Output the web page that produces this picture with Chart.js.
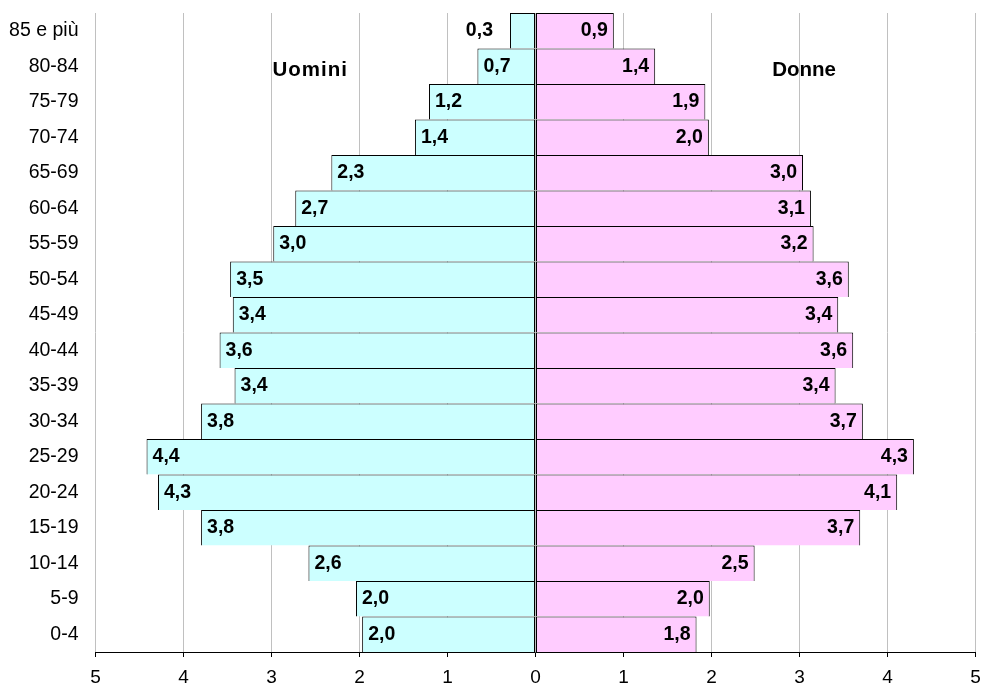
<!DOCTYPE html>
<html>
<head>
<meta charset="utf-8">
<script src="https://cdn.jsdelivr.net/npm/chart.js@4/dist/chart.umd.min.js"></script>
<style>
html,body{margin:0;padding:0;background:#ffffff;}
#wrap{width:982px;height:688px;position:relative;}
</style>
</head>
<body>
<div id="wrap"><canvas id="c" width="982" height="688"></canvas></div>
<script>
// Age groups (top to bottom)
const categories = ['85 e più','80-84','75-79','70-74','65-69','60-64','55-59','50-54','45-49','40-44','35-39','30-34','25-29','20-24','15-19','10-14','5-9','0-4'];
// Percent of population, men (drawn to the left)
const uomini = [0.29, 0.66, 1.21, 1.37, 2.32, 2.73, 2.98, 3.47, 3.44, 3.59, 3.42, 3.80, 4.42, 4.29, 3.80, 2.58, 2.04, 1.97];
// Percent of population, women (drawn to the right)
const donne = [0.89, 1.36, 1.93, 1.97, 3.04, 3.13, 3.16, 3.56, 3.44, 3.61, 3.41, 3.72, 4.30, 4.11, 3.69, 2.49, 1.98, 1.83];
// Axis ticks
const xTickValues = [-5,-4,-3,-2,-1,0,1,2,3,4,5];
const seriesNames = ['Uomini','Donne'];

const FONT = '"Liberation Sans", Arial, sans-serif';
const fmt = v => v.toFixed(1).replace('.', ',');

const valueLabels = {
  id: 'valueLabels',
  afterDatasetsDraw(chart) {
    const ctx = chart.ctx;
    ctx.save();
    ctx.font = 'bold 19.5px ' + FONT;
    ctx.fillStyle = '#000';
    ctx.textBaseline = 'middle';
    chart.data.datasets.forEach((ds, di) => {
      const meta = chart.getDatasetMeta(di);
      meta.data.forEach((el, i) => {
        const raw = di === 0 ? uomini[i] : donne[i];
        const txt = fmt(raw);
        const w = ctx.measureText(txt).width;
        const barW = Math.abs(el.x - el.base);
        const fits = w + 12 < barW;
        if (di === 0) {
          if (fits) { ctx.textAlign = 'left'; ctx.fillText(txt, el.x + 6, el.y); }
          else { ctx.textAlign = 'right'; ctx.fillText(txt, el.x - 17, el.y); }
        } else {
          if (fits) { ctx.textAlign = 'right'; ctx.fillText(txt, el.x - 6, el.y); }
          else { ctx.textAlign = 'left'; ctx.fillText(txt, el.x + 17, el.y); }
        }
      });
    });
    // series titles
    const xs = chart.scales.x, ys = chart.scales.y;
    ctx.font = 'bold 20.5px ' + FONT;
    ctx.textAlign = 'left';
    const yRow = ys.getPixelForValue(1) + 4;
    ctx.letterSpacing = '1px';
    ctx.fillText(seriesNames[0], xs.getPixelForValue(-2.99), yRow);
    ctx.letterSpacing = '0px';
    ctx.fillText(seriesNames[1], xs.getPixelForValue(2.69), yRow);
    ctx.restore();
  }
};

new Chart(document.getElementById('c'), {
  type: 'bar',
  data: {
    labels: categories,
    datasets: [
      { label: seriesNames[0], data: uomini.map(v => -v), backgroundColor: '#CCFFFF', borderColor: '#000000',
        borderWidth: {top:1,left:1,right:1,bottom:0}, borderSkipped: false, barPercentage: 1, categoryPercentage: 1, inflateAmount: 0 },
      { label: seriesNames[1], data: donne, backgroundColor: '#FFCCFF', borderColor: '#000000',
        borderWidth: {top:1,left:1,right:1,bottom:0}, borderSkipped: false, barPercentage: 1, categoryPercentage: 1, inflateAmount: 0 }
    ]
  },
  options: {
    indexAxis: 'y',
    responsive: false,
    animation: false,
    devicePixelRatio: 1,
    layout: { padding: { top: 13, right: 6.5, bottom: 0, left: 0 } },
    plugins: { legend: { display: false }, tooltip: { enabled: false } },
    scales: {
      x: {
        stacked: true,
        min: -5, max: 5,
        afterBuildTicks: s => { s.ticks = xTickValues.map(v => ({ value: v })); },
        afterFit: s => { s.height = 36; s.paddingLeft = 0; s.paddingRight = 0; },
        ticks: { callback: v => String(Math.abs(v)), color: '#000', font: { family: FONT, size: 19 }, padding: 9, maxRotation: 0, autoSkip: false },
        grid: { color: '#c0c0c0', lineWidth: 1, drawTicks: true, tickLength: 5, tickColor: '#000' },
        border: { display: true, color: '#000', width: 1 }
      },
      y: {
        stacked: true,
        afterFit: s => { s.width = 95.5; s.paddingTop = 0; s.paddingBottom = 0; },
        ticks: { color: '#000', font: { family: FONT, size: 19.5 }, padding: 17, autoSkip: false },
        grid: { display: false, drawTicks: false },
        border: { display: false }
      }
    }
  },
  plugins: [valueLabels]
});
</script>
</body>
</html>
